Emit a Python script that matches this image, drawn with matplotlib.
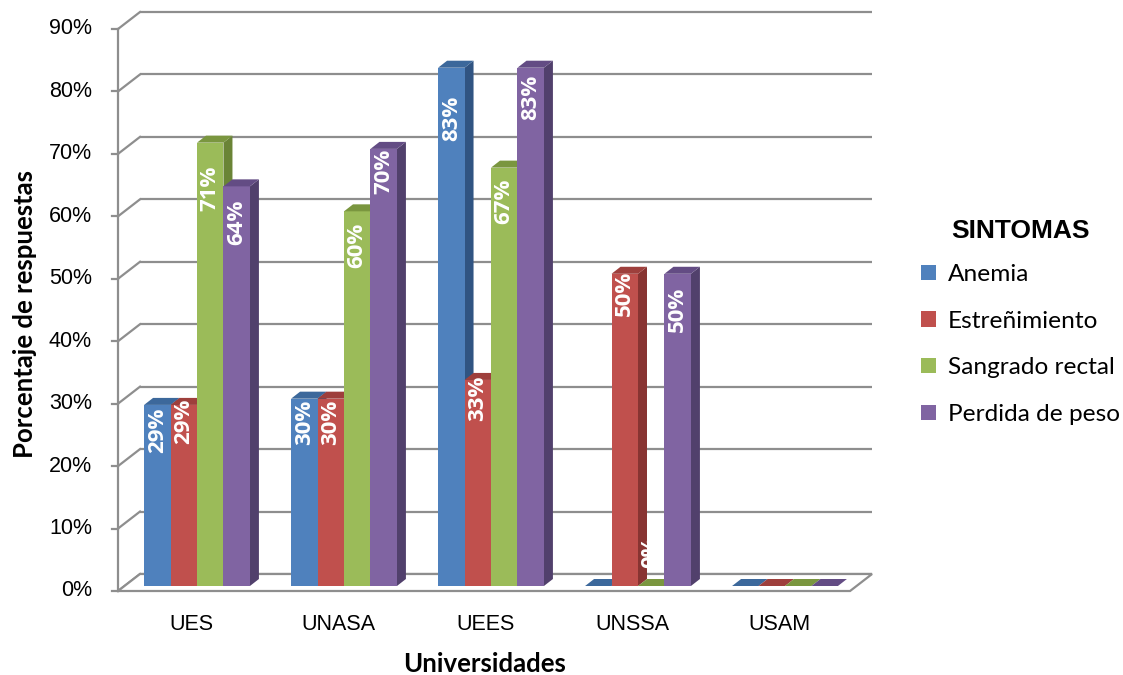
import numpy as np
import matplotlib
matplotlib.use('Agg')
import matplotlib.pyplot as plt
from matplotlib.patches import Polygon, Patch

universidades = ['UES', 'UNASA', 'UEES', 'UNSSA', 'USAM']
sintomas = ['Anemia', 'Estreñimiento', 'Sangrado rectal', 'Perdida de peso']
anemia = [29, 30, 83, 0, 0]
estrenimiento = [29, 30, 33, 50, 0]
sangrado = [71, 60, 67, 0, 0]
perdida = [64, 70, 83, 50, 0]
y_ticks = [0, 10, 20, 30, 40, 50, 60, 70, 80, 90]

series = [anemia, estrenimiento, sangrado, perdida]

# front / top / side shades for each series
colores = [
    ('#4F81BD', '#3C689B', '#305482'),
    ('#C0504D', '#9E3F3C', '#883432'),
    ('#9BBB59', '#7A963F', '#6A8436'),
    ('#8064A2', '#634C84', '#51406C'),
]

# how far (px) each value label sits below the top of its bar
label_shift = [
    [25, 24, 51, -34, -34],
    [16, 24, 18, 20, -34],
    [46, 34, 34, -34, -34],
    [36, 22, 30, 36, -34],
]

W, H = 1123, 675
fig = plt.figure(figsize=(W / 100, H / 100), dpi=100)
ax = fig.add_axes([123.5 / W, 89 / H, 735 / W, 562 / H])
ax.set_xlim(-0.5, 4.5)
ax.set_ylim(0, 90)
ax.axis('off')

PX_X = 735 / 5.0
PX_Y = 562 / 90.0


def off(dx_px, dy_px):
    # pixel offset (image convention, y down) -> data units
    return dx_px / PX_X, -dy_px / PX_Y


fdx, fdy = off(-5.5, 5)     # front plane (axis line, floor edge)
bdx, bdy = off(16.5, -12)   # back wall
ddx, ddy = off(9, -7)       # depth of each column

grid_c = '#8E8E8E'
grid_lw = 1.6
x_end = 4.48

# back wall gridlines plus the left wall diagonals
for v in y_ticks:
    ax.plot([-0.5 + bdx, x_end + bdx], [v + bdy, v + bdy], color=grid_c, lw=grid_lw,
            clip_on=False, zorder=1, solid_capstyle='butt')
    ax.plot([-0.5 + fdx, -0.5 + bdx], [v + fdy, v + bdy], color=grid_c, lw=grid_lw,
            clip_on=False, zorder=1)
    ax.plot([-0.5 + fdx - 6 / PX_X, -0.5 + fdx], [v + fdy, v + fdy], color=grid_c,
            lw=grid_lw, clip_on=False, zorder=1)
    ax.text(-0.5 + fdx - 26 / PX_X, v + fdy, f'{v}%', ha='right', va='center',
            fontsize=15.5, family='Liberation Sans', color='black')

# front axis line and floor
ax.plot([-0.5 + fdx, -0.5 + fdx], [fdy, 90 + fdy], color=grid_c, lw=grid_lw,
        clip_on=False, zorder=1)
floor = Polygon([(-0.5 + fdx, fdy), (x_end + fdx, fdy), (x_end + bdx, bdy), (-0.5 + bdx, bdy)],
                closed=True, facecolor='white', edgecolor=grid_c, lw=grid_lw,
                clip_on=False, zorder=1)
ax.add_patch(floor)

bar_w = 0.18
for i in range(len(universidades)):
    for j, vals in enumerate(series):
        v = vals[i]
        x0 = i + (j - 2) * bar_w
        x1 = x0 + bar_w
        front, top, side = colores[j]
        ax.add_patch(Polygon([(x1, 0), (x1 + ddx, ddy), (x1 + ddx, v + ddy), (x1, v)],
                             closed=True, facecolor=side, edgecolor='none',
                             clip_on=False, zorder=3))
        if v > 0:
            ax.add_patch(Polygon([(x0, 0), (x1, 0), (x1, v), (x0, v)], closed=True,
                                 facecolor=front, edgecolor='none', clip_on=False, zorder=3))
        ax.add_patch(Polygon([(x0, v), (x1, v), (x1 + ddx, v + ddy), (x0 + ddx, v + ddy)],
                             closed=True, facecolor=top, edgecolor='none',
                             clip_on=False, zorder=3))

# value labels
for j, vals in enumerate(series):
    for i, v in enumerate(vals):
        xc = i + (j - 1.5) * bar_w
        ax.text(xc, v - label_shift[j][i] / PX_Y, f'{v}%', rotation=90,
                ha='center', va='center', color='white', fontsize=16,
                fontweight='bold', family='Open Sans', zorder=5, clip_on=False)

# category labels
for i, name in enumerate(universidades):
    ax.text(i + fdx, -39 / PX_Y, name, ha='center', va='center', fontsize=15.5,
            family='Liberation Sans', color='black')

fig.text(25 / W, 1 - 314 / H, 'Porcentaje de respuestas', rotation=90, ha='center',
         va='center', fontsize=18.5, fontweight='bold', family='Lato')
fig.text(485 / W, 1 - 664 / H, 'Universidades', ha='center', va='center',
         fontsize=18.5, fontweight='bold', family='Lato')

# legend
fig.text(1020 / W, 1 - 231 / H, 'SINTOMAS', ha='center', va='center', fontsize=19,
         fontweight='bold', family='Liberation Sans')
handles = [Patch(facecolor=c[0], edgecolor='none') for c in colores]
fig.legend(handles, sintomas, loc='center left',
           bbox_to_anchor=(921 / W, 1 - 344.5 / H), frameon=False,
           prop={'family': 'Lato', 'size': 17.6},
           handlelength=0.6, handleheight=0.6, handletextpad=0.5,
           labelspacing=1.05, borderpad=0, borderaxespad=0)

fig.savefig('out.png', dpi=100)
